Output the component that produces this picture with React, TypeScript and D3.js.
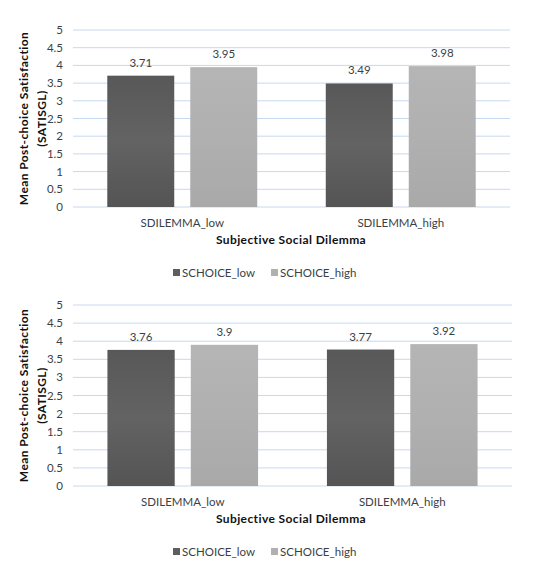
import React from "react";
import * as d3 from "d3";

const categories = ["SDILEMMA_low", "SDILEMMA_high"];
const seriesNames = ["SCHOICE_low", "SCHOICE_high"];
const panelTopLow = [3.71, 3.49];
const panelTopHigh = [3.95, 3.98];
const panelBottomLow = [3.76, 3.77];
const panelBottomHigh = [3.9, 3.92];
const yTicks = [0, 0.5, 1, 1.5, 2, 2.5, 3, 3.5, 4, 4.5, 5];

const FONT = "Lato, 'Open Sans', sans-serif";
const TEXT = "#3b3f47";
const fills = ["url(#gradDark)", "url(#gradLight)"];
const legendFills = ["#5e5e5e", "#b0b0b0"];

type PanelProps = {
  low: number[];
  high: number[];
  yTop: number;
  yBottom: number;
  xRight: number;
};

function Panel({ low, high, yTop, yBottom, xRight }: PanelProps) {
  const xLeft = 73;
  const y = d3.scaleLinear().domain([0, 5]).range([yBottom, yTop]);
  const x0 = d3.scaleBand<string>().domain(categories).range([xLeft, xRight]);
  const x1 = d3
    .scaleBand<string>()
    .domain(seriesNames)
    .range([0, x0.bandwidth()])
    .paddingInner(0.193)
    .paddingOuter(0.413);
  const series = [low, high];
  const catY = yBottom + 20;
  const titleY = yBottom + 37;
  const legendY = yBottom + 70;

  return (
    <g>
      {yTicks.map((t) => (
        <g key={t}>
          <line
            x1={xLeft}
            x2={xRight}
            y1={y(t)}
            y2={y(t)}
            stroke="#c6d9ef"
            strokeWidth={1}
          />
          <text
            x={63}
            y={y(t) + 4}
            textAnchor="end"
            fontSize={11.5}
            fill={TEXT}
            fontFamily={FONT}
          >
            {t}
          </text>
        </g>
      ))}
      {categories.map((c, ci) =>
        seriesNames.map((s, si) => {
          const v = series[si][ci];
          const bx = (x0(c) ?? 0) + (x1(s) ?? 0);
          return (
            <g key={c + s}>
              <rect
                x={bx}
                y={y(v)}
                width={x1.bandwidth()}
                height={y(0) - y(v)}
                fill={fills[si]}
              />
              <text
                x={bx + x1.bandwidth() / 2}
                y={y(v) - 9}
                textAnchor="middle"
                fontSize={11.5}
                fill={TEXT}
                fontFamily={FONT}
              >
                {v}
              </text>
            </g>
          );
        })
      )}
      {categories.map((c) => (
        <text
          key={c}
          x={(x0(c) ?? 0) + x0.bandwidth() / 2}
          y={catY}
          textAnchor="middle"
          fontSize={11.5}
          fill={TEXT}
          fontFamily={FONT}
        >
          {c}
        </text>
      ))}
      <text
        x={291}
        y={titleY}
        textAnchor="middle"
        fontSize={12}
        letterSpacing={0.4}
        fontWeight="bold"
        fill="#111"
        fontFamily={FONT}
      >
        Subjective Social Dilemma
      </text>
      <g transform={`translate(28, ${(yTop + yBottom) / 2}) rotate(-90)`}>
        <text
          x={0}
          y={0}
          textAnchor="middle"
          fontSize={12}
          letterSpacing={0.4}
          fontWeight="bold"
          fill="#111"
          fontFamily={FONT}
        >
          Mean Post-choice Satisfaction
        </text>
        <text
          x={0}
          y={18}
          textAnchor="middle"
          fontSize={12}
          letterSpacing={0.4}
          fontWeight="bold"
          fill="#111"
          fontFamily={FONT}
        >
          (SATISGL)
        </text>
      </g>
      {seriesNames.map((s, si) => {
        const lx = si === 0 ? 173 : 271;
        return (
          <g key={s}>
            <rect x={lx} y={legendY - 8} width={7} height={7} fill={legendFills[si]} />
            <text
              x={lx + 9}
              y={legendY}
              fontSize={11.5}
              fill={TEXT}
              fontFamily={FONT}
            >
              {s}
            </text>
          </g>
        );
      })}
    </g>
  );
}

export default function App() {
  return (
    <svg
      width={537}
      height={571}
      style={{ position: "absolute", left: 0, top: 0, background: "#fff" }}
    >
      <defs>
        <linearGradient id="gradDark" x1="0" y1="0" x2="0" y2="1">
          <stop offset="0" stopColor="#585858" />
          <stop offset="0.5" stopColor="#636363" />
          <stop offset="1" stopColor="#545454" />
        </linearGradient>
        <linearGradient id="gradLight" x1="0" y1="0" x2="0" y2="1">
          <stop offset="0" stopColor="#b5b5b5" />
          <stop offset="0.5" stopColor="#b0b0b0" />
          <stop offset="1" stopColor="#a9a9a9" />
        </linearGradient>
      </defs>
      <rect width={537} height={571} fill="#fff" />
      <Panel low={panelTopLow} high={panelTopHigh} yTop={30} yBottom={207} xRight={510} />
      <Panel low={panelBottomLow} high={panelBottomHigh} yTop={305} yBottom={486} xRight={512} />
    </svg>
  );
}
